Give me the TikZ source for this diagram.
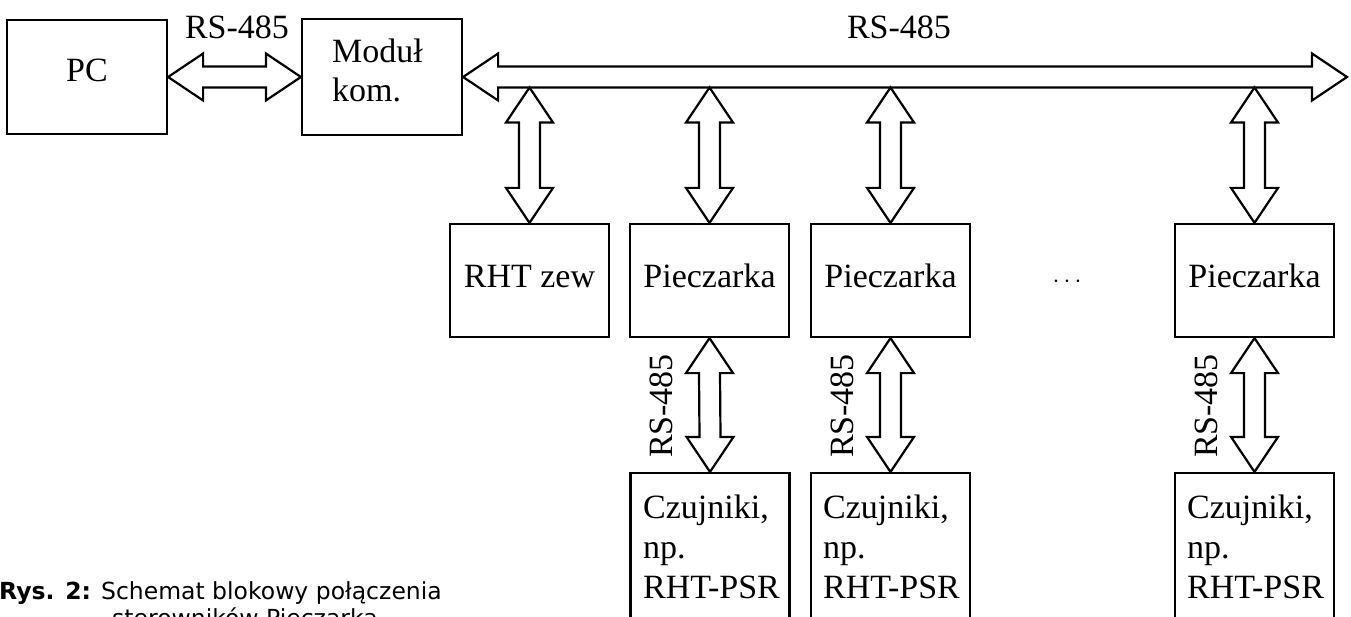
\documentclass[tikz,border=0pt]{standalone}
\usepackage{fontspec}
\setmainfont{Liberation Serif}
\newfontfamily\capfont{DejaVu Sans}
\usetikzlibrary{calc}
\tikzset{
  box/.style={draw, line width=2.2pt, inner sep=0pt, minimum width=159pt, minimum height=113pt},
  txt/.style={inner sep=0pt, font=\fontsize{34}{40}\selectfont},
  fat/.style={draw, fill=white, line width=2.2pt, line join=miter},
  captxt/.style={inner sep=0pt, font=\capfont\fontsize{23.5}{26}\selectfont}
}
% horizontal fat double arrow: tips #1 (left) and #2 (right), same y
\newcommand{\fatH}[2]{%
  \path[fat] (#1) -- ($(#1)+(35,-23.5)$) -- ($(#1)+(35,-10.5)$) -- ($(#2)+(-35,-10.5)$)
   -- ($(#2)+(-35,-23.5)$) -- (#2) -- ($(#2)+(-35,23.5)$) -- ($(#2)+(-35,10.5)$)
   -- ($(#1)+(35,10.5)$) -- ($(#1)+(35,23.5)$) -- cycle;}
% vertical fat double arrow: tips #1 (top) and #2 (bottom), same x
\newcommand{\fatV}[2]{%
  \path[fat] (#1) -- ($(#1)+(-23.5,35)$) -- ($(#1)+(-10.5,35)$) -- ($(#2)+(-10.5,-35)$)
   -- ($(#2)+(-23.5,-35)$) -- (#2) -- ($(#2)+(23.5,-35)$) -- ($(#2)+(10.5,-35)$)
   -- ($(#1)+(10.5,35)$) -- ($(#1)+(23.5,35)$) -- cycle;}
\begin{document}
\begin{tikzpicture}[x=1pt,y=-1pt]
\useasboundingbox (0,0) rectangle (1351,617);
% boxes
\node[box, minimum width=160pt, minimum height=114pt] (pc) at (87,77) {};
\node[box, minimum width=160pt, minimum height=116pt] (mod) at (382,77) {};
\node[box] (rht) at (529.5,280.5) {};
\node[box] (p1) at (709.5,280.5) {};
\node[box] (p2) at (890.5,280.5) {};
\node[box] (p3) at (1254.5,280.5) {};
\node[box, minimum height=200pt] (s1) at (710,573) {};
\node[box, minimum height=200pt] (s2) at (890.5,573) {};
\node[box, minimum height=200pt] (s3) at (1254.5,573) {};
% coordinates
\coordinate (busR) at (1347,77);
\coordinate (busB) at (0,87.5);
\coordinate (t1) at (rht.north |- busB);
\coordinate (t2) at (p1.north |- busB);
\coordinate (t3) at (p2.north |- busB);
\coordinate (t4) at (p3.north |- busB);
% arrows
\fatH{pc.east}{mod.west}
\fatH{mod.east}{busR}
\fatV{t1}{rht.north}
\fatV{t2}{p1.north}
\fatV{t3}{p2.north}
\fatV{t4}{p3.north}
\fatV{p1.south}{s1.north}
\fatV{p2.south}{s2.north}
\fatV{p3.south}{s3.north}
% texts
\node[txt, anchor=base] (tpc) at (87,82) {PC};
\node[txt, anchor=base] (l1) at (237,39) {RS-485};
\node[txt, anchor=base] (l2) at (899,39) {RS-485};
\node[txt, anchor=base west] (tm1) at (332,63) {Moduł};
\node[txt, anchor=base west] (tm2) at (332,102) {kom.};
\node[txt, anchor=base] (trht) at (529.5,288) {RHT zew};
\node[txt, anchor=base] (tp1) at (709.5,288) {Pieczarka};
\node[txt, anchor=base] (tp2) at (890.5,288) {Pieczarka};
\node[txt, anchor=base] (tp3) at (1254.5,288) {Pieczarka};
\node[txt, anchor=base] (dots) at (1067,288) {$\cdots$};
\node[txt, rotate=90, anchor=base] (v1) at (672,406) {RS-485};
\node[txt, rotate=90, anchor=base] (v2) at (853,406) {RS-485};
\node[txt, rotate=90, anchor=base] (v3) at (1217,406) {RS-485};
\foreach \s/\x in {s1/643, s2/823, s3/1187}{
  \node[txt, anchor=base west] (\s a) at (\x,518) {Czujniki,};
  \node[txt, anchor=base west] (\s b) at (\x,558) {np.};
  \node[txt, anchor=base west] (\s c) at (\x,598) {RHT-PSR};
}
% caption
\node[captxt, anchor=base west] (c1) at (-1,599) {\textbf{Rys. 2:} Schemat blokowy połączenia};
\node[captxt, anchor=base west] (c2) at (112,626) {sterowników Pieczarka};
\end{tikzpicture}
\end{document}
